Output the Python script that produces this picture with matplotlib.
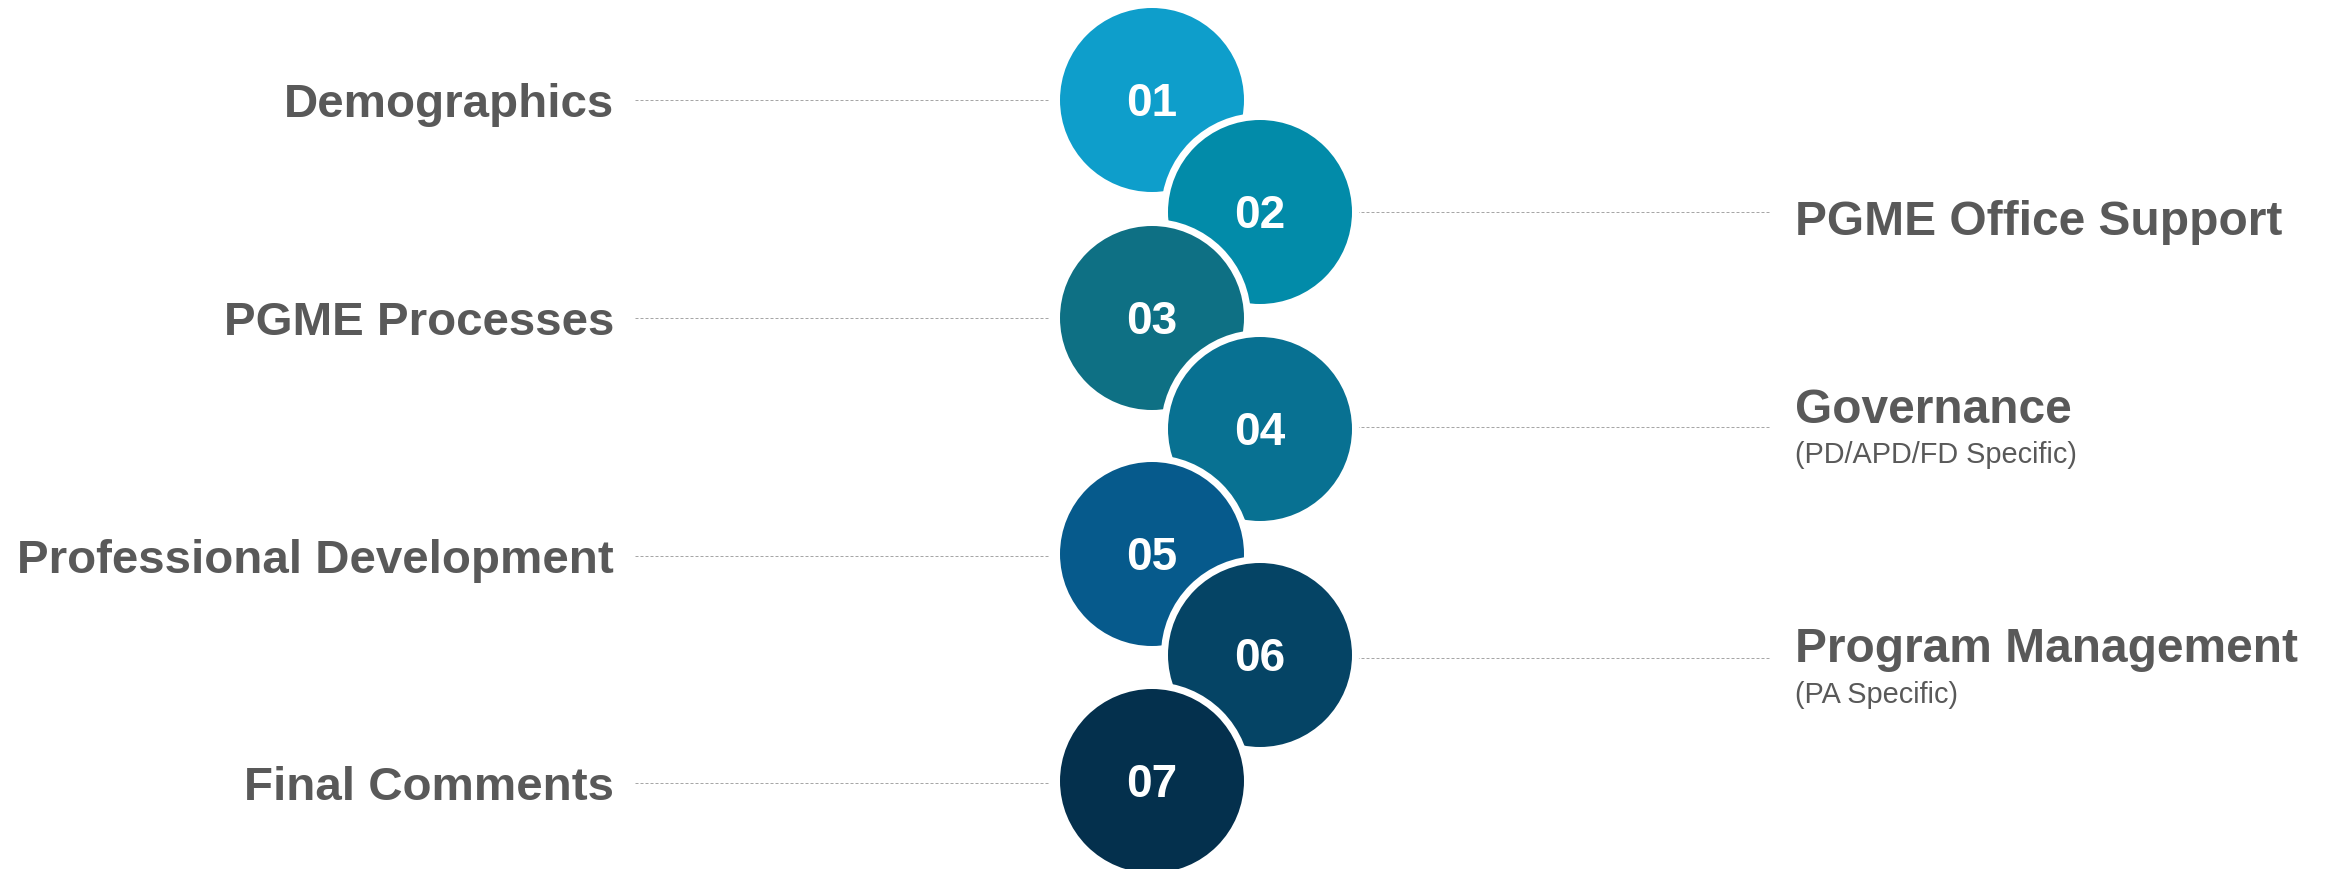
import matplotlib
matplotlib.use("Agg")
import matplotlib.pyplot as plt
from matplotlib.patches import Circle

# ---- data ----
step_numbers = ["01", "02", "03", "04", "05", "06", "07"]
step_titles = ["Demographics", "PGME Office Support", "PGME Processes", "Governance",
               "Professional Development", "Program Management", "Final Comments"]
step_subtitles = ["", "", "", "(PD/APD/FD Specific)", "", "(PA Specific)", ""]
step_sides = ["left", "right", "left", "right", "left", "right", "left"]
step_colors = ["#0E9ECB", "#028BA9", "#0E7084", "#087192", "#065A8C", "#054465", "#04304D"]

# ---- layout (pixel coordinates) ----
W, H = 2331, 869
DPI = 100
circle_x = {"left": 1152, "right": 1260}
circle_y = [100, 212, 318, 429, 554, 655, 781]
line_y = [100, 212, 318, 427, 556, 658, 783]
R = 95.5
title_base = [117, 235, 335, 423, 573, 662, 800]
sub_base = [None, None, None, 463, None, 703, None]

fig = plt.figure(figsize=(W / DPI, H / DPI), dpi=DPI)
ax = fig.add_axes([0, 0, 1, 1])
ax.set_xlim(0, W)
ax.set_ylim(H, 0)
ax.set_aspect("equal")
ax.axis("off")

px = 72.0 / DPI  # points per pixel
txt_color = "#595959"
font = ["Liberation Sans", "DejaVu Sans"]

for i, num in enumerate(step_numbers):
    side = step_sides[i]
    cx, cy = circle_x[side], circle_y[i]
    ax.add_patch(Circle((cx, cy), R, facecolor=step_colors[i], edgecolor="white",
                        linewidth=7 * px, zorder=2 + i))
    ax.text(cx, cy + 16, num, color="white", fontsize=33, fontweight="bold",
            family=font, ha="center", va="baseline", zorder=20)
    ly = line_y[i]
    if side == "left":
        ax.plot([635, 1049], [ly, ly], color="#A6A6A6", lw=1 * px,
                linestyle=(0, (3, 2)), zorder=1)
        ax.text(614, title_base[i], step_titles[i], color=txt_color, fontsize=34.2,
                fontweight="bold", family=font, ha="right", va="baseline")
    else:
        ax.plot([1356, 1771], [ly, ly], color="#A6A6A6", lw=1 * px,
                linestyle=(0, (3, 2)), zorder=1)
        ax.text(1795, title_base[i], step_titles[i], color=txt_color, fontsize=34.5,
                fontweight="bold", family=font, ha="left", va="baseline")
        if step_subtitles[i]:
            ax.text(1795, sub_base[i], step_subtitles[i], color=txt_color, fontsize=20.8,
                    family=font, ha="left", va="baseline")

fig.savefig("out.png", dpi=DPI, facecolor="white")
